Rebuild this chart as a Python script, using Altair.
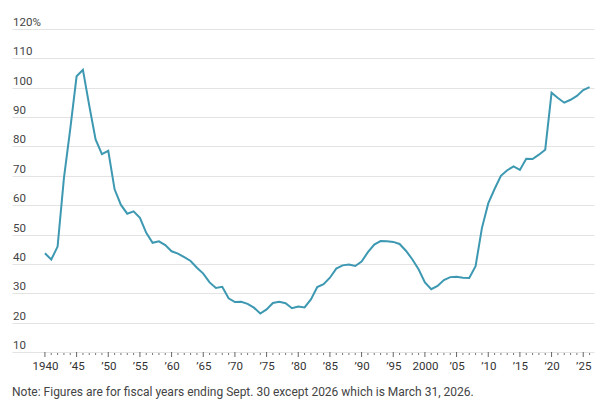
import altair as alt
import pandas as pd

# Federal debt held by the public, % of GDP, fiscal years 1940-2026
years = list(range(1940, 2027))
debt_pct = [
    43.6, 41.5, 45.9, 69.2, 86.0, 103.9, 106.1, 93.9, 82.4, 77.4,   # 1940s
    78.5, 65.4, 60.1, 57.1, 57.9, 55.7, 50.6, 47.2, 47.7, 46.4,     # 1950s
    44.3, 43.5, 42.3, 41.0, 38.7, 36.7, 33.7, 31.8, 32.2, 28.3,     # 1960s
    27.0, 27.1, 26.4, 25.1, 23.1, 24.5, 26.7, 27.1, 26.6, 24.9,     # 1970s
    25.5, 25.2, 27.9, 32.1, 33.1, 35.3, 38.4, 39.5, 39.8, 39.3,     # 1980s
    40.8, 44.0, 46.6, 47.8, 47.7, 47.5, 46.8, 44.5, 41.6, 38.2,     # 1990s
    33.7, 31.4, 32.5, 34.5, 35.5, 35.6, 35.3, 35.2, 39.2, 52.2,     # 2000s
    60.6, 65.5, 70.0, 71.9, 73.2, 72.0, 75.8, 75.7, 77.2, 78.9,     # 2010s
    98.3, 96.5, 94.9, 95.9, 97.2, 99.2, 100.2,                      # 2020-2026
]
grid_values = list(range(10, 130, 10))
grid_labels = [f"{v}%" if v == 120 else str(v) for v in grid_values]
label_years = list(range(1940, 2026, 5))
note = "Note: Figures are for fiscal years ending Sept. 30 except 2026 which is March 31, 2026."

W, H = 582, 323
FONT = "Roboto"
LINE_COLOR = "#3d98b2"

series = pd.DataFrame({"year": years, "pct": debt_pct})
ticks_df = pd.DataFrame({"year": years})
ylab_df = pd.DataFrame({"v": grid_values, "label": grid_labels})

x_scale = alt.Scale(domain=[1934.8, 2026.7], nice=False, zero=False)
y_scale = alt.Scale(domain=[10, 120], nice=False, zero=False)

year_label_expr = (
    "(datum.value == 1940 || datum.value == 2000) ? toString(datum.value) "
    ": '\u2019' + slice(toString(datum.value), 2)"
)

x_axis = alt.Axis(
    values=label_years,
    labelExpr=year_label_expr,
    grid=False,
    ticks=False,
    tickSize=0,
    domain=False,
    labelPadding=8,
    labelFont=FONT,
    labelFontSize=11.5,
    labelColor="#333333",
    title=None,
)
y_axis = alt.Axis(
    values=grid_values,
    grid=True,
    gridColor="#e3e3e3",
    gridWidth=1,
    labels=False,
    ticks=False,
    domain=False,
    title=None,
)

X = alt.X("year:Q", scale=x_scale, axis=x_axis)

line = alt.Chart(series).mark_line(color=LINE_COLOR, strokeWidth=2).encode(
    x=X,
    y=alt.Y("pct:Q", scale=y_scale, axis=y_axis),
)

minor_ticks = alt.Chart(ticks_df).transform_filter("datum.year % 5 != 0").mark_rule(
    color="#777777", strokeWidth=1
).encode(
    x=X,
    y=alt.value(H + 1),
    y2=alt.value(H + 3),
)

major_ticks = alt.Chart(ticks_df).transform_filter("datum.year % 5 == 0").mark_rule(
    color="#666666", strokeWidth=1
).encode(
    x=X,
    y=alt.value(H),
    y2=alt.value(H + 5),
)

y_labels = alt.Chart(ylab_df).mark_text(
    align="left", baseline="alphabetic", dy=-3, font=FONT, fontSize=11.5, color="#444444"
).encode(
    x=alt.value(1),
    y=alt.Y("v:Q", scale=y_scale, axis=y_axis),
    text="label:N",
)

note_text = alt.Chart(pd.DataFrame({"t": [note]})).mark_text(
    align="left", baseline="alphabetic", font=FONT, fontSize=12, color="#444444"
).encode(
    x=alt.value(0),
    y=alt.value(H + 44),
    text="t:N",
)

chart = (
    alt.layer(line, minor_ticks, major_ticks, y_labels, note_text)
    .properties(
        width=W,
        height=H,
        autosize=alt.AutoSizeParams(type="none"),
        padding={"left": 12, "top": 29, "right": 6, "bottom": 48},
        background="white",
    )
    .configure_view(stroke=None)
)

chart.save("out.html", embed_options={"renderer": "svg", "actions": False})
